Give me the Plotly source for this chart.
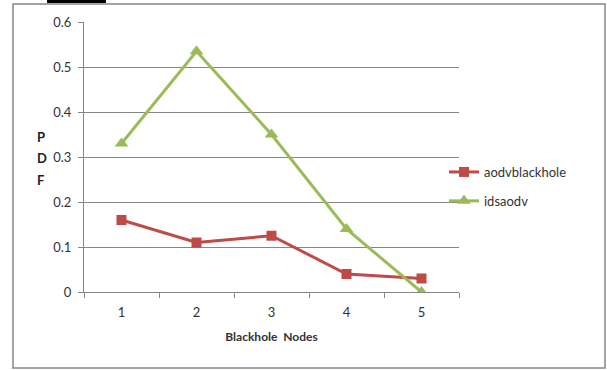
import plotly.graph_objects as go

# Chart data
nodes = ["1", "2", "3", "4", "5"]
aodvblackhole = [0.16, 0.11, 0.125, 0.04, 0.03]
idsaodv = [0.33, 0.535, 0.35, 0.14, 0.0]
y_ticks = [0, 0.1, 0.2, 0.3, 0.4, 0.5, 0.6]

RED = "#BE4B48"
GREEN = "#9BBB59"
AXIS = "#868686"
FONT = "Lato"
TEXT = "#333333"

# plot area in pixels
L, R, T, B = 84, 148, 22, 78
W, H = 607, 370
PW, PH = W - L - R, H - T - B


def px_x(px):
    return (px - L) / PW


def px_y(py):
    return (H - B - py) / PH


fig = go.Figure()
fig.add_trace(go.Scatter(
    x=nodes, y=aodvblackhole, name="aodvblackhole", mode="lines+markers",
    line=dict(color=RED, width=3),
    marker=dict(symbol="square", size=10, color=RED),
    legendgroup="a",
))
fig.add_trace(go.Scatter(
    x=nodes, y=idsaodv, name="idsaodv", mode="lines+markers",
    line=dict(color=GREEN, width=3),
    marker=dict(symbol="triangle-up", size=12, color=GREEN),
    legendgroup="b",
))

fig.update_layout(
    width=W, height=H,
    margin=dict(l=L, r=R, t=T, b=B),
    paper_bgcolor="white", plot_bgcolor="white",
    font=dict(family=FONT, size=13, color=TEXT),
    showlegend=True,
    legend=dict(
        x=px_x(444), y=px_y(157), xanchor="left", yanchor="top",
        font=dict(family=FONT, size=13, color=TEXT),
        traceorder="grouped", tracegroupgap=9,
        bgcolor="rgba(0,0,0,0)",
    ),
    xaxis=dict(
        type="category", range=[-0.5, 4.5],
        tickson="boundaries", ticks="outside", ticklen=5,
        tickcolor=AXIS, showline=True, linecolor=AXIS, linewidth=1,
        showgrid=False, zeroline=False, ticklabelstandoff=8,
        tickfont=dict(family=FONT, size=13, color=TEXT),
        title=dict(text="<b>Blackhole  Nodes</b>", standoff=14,
                   font=dict(family=FONT, size=12, color=TEXT)),
    ),
    yaxis=dict(
        range=[0, 0.6], tickvals=y_ticks, ticktext=[f"{v:g}" for v in y_ticks],
        ticks="outside", ticklen=5, tickcolor=AXIS,
        showline=True, linecolor=AXIS, linewidth=1,
        showgrid=True, gridcolor=AXIS, gridwidth=1, zeroline=False,
        ticklabelstandoff=4,
        tickfont=dict(family=FONT, size=13, color=TEXT),
    ),
)

# stacked "P D F" axis title
for letter, py in zip(["P", "D", "F"], [137, 158, 180]):
    fig.add_annotation(
        x=px_x(35), y=px_y(py), xref="paper", yref="paper",
        text=f"<b>{letter}</b>", showarrow=False,
        font=dict(family=FONT, size=13, color="#202020"),
    )

# outer chart border
fig.add_shape(
    type="rect", xref="paper", yref="paper",
    x0=px_x(13), x1=px_x(605), y0=px_y(368), y1=px_y(4),
    line=dict(color=AXIS, width=1.5), fillcolor="rgba(0,0,0,0)", layer="below",
)
# caption bar above the border
fig.add_shape(
    type="rect", xref="paper", yref="paper",
    x0=px_x(47), x1=px_x(106), y0=px_y(3), y1=px_y(0),
    line=dict(width=0), fillcolor="black",
)

fig.write_html("out.html")
